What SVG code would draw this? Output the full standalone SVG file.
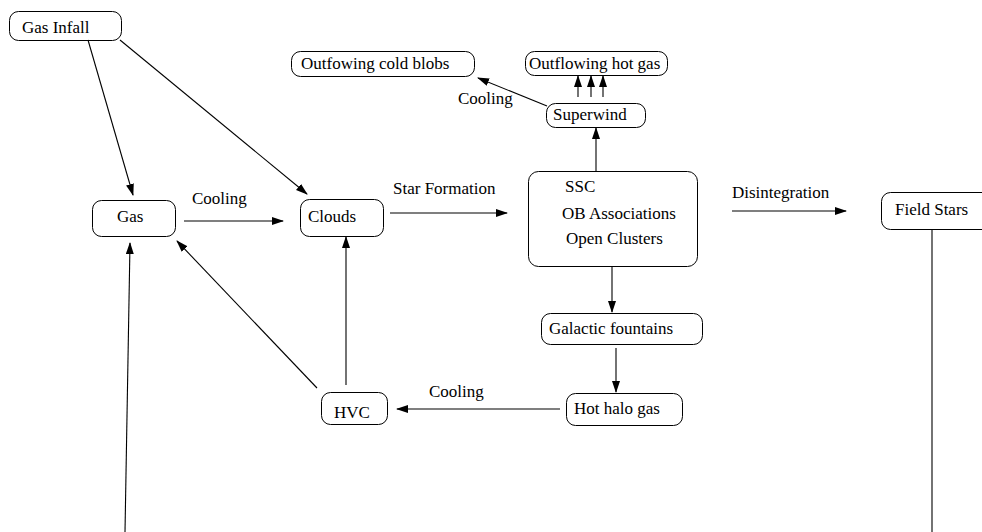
<svg xmlns="http://www.w3.org/2000/svg" width="982" height="532" viewBox="0 0 982 532">
<style>
.box{fill:#fff;stroke:#000;stroke-width:1}
.t{font-family:"Liberation Serif","Times New Roman",serif;font-size:17px;fill:#000}
.c line{stroke:#000;stroke-width:1.1;marker-end:url(#ah)}
.c line.plain{marker-end:none}
</style>
<defs>
<marker id="ah" markerUnits="userSpaceOnUse" markerWidth="12" markerHeight="8" refX="11" refY="4" orient="auto">
<path d="M0,0 L12,4 L0,8 z" fill="#000"/>
</marker>
</defs>
<rect width="982" height="532" fill="#fff"/>
<g id="gas-infall"><rect class="box" x="9.5" y="11.5" width="112" height="29" rx="9"/><text class="t" x="22" y="33">Gas Infall</text></g>
<g id="gas"><rect class="box" x="92.5" y="200.5" width="83" height="36" rx="9"/><text class="t" x="117" y="222">Gas</text></g>
<g id="clouds"><rect class="box" x="300.5" y="199.5" width="83" height="37" rx="9"/><text class="t" x="308" y="222">Clouds</text></g>
<g id="ssc"><rect class="box" x="528.5" y="171.5" width="169" height="95" rx="10"/><text class="t" x="565" y="192">SSC</text><text class="t" x="562" y="219">OB Associations</text><text class="t" x="566" y="244">Open Clusters</text></g>
<g id="superwind"><rect class="box" x="546.5" y="103.5" width="99" height="24" rx="9"/><text class="t" x="553" y="120">Superwind</text></g>
<g id="outflowing-hot-gas"><rect class="box" x="525.5" y="51.5" width="142" height="24" rx="9"/><text class="t" x="529" y="69">Outflowing hot gas</text></g>
<g id="outfowing-cold-blobs"><rect class="box" x="291.5" y="51.5" width="183" height="25" rx="9"/><text class="t" x="301" y="69">Outfowing cold blobs</text></g>
<g id="field-stars"><rect class="box" x="881.5" y="192.5" width="110" height="37" rx="9"/><text class="t" x="895" y="215">Field Stars</text></g>
<g id="galactic-fountains"><rect class="box" x="541.5" y="313.5" width="161" height="31" rx="9"/><text class="t" x="549" y="334">Galactic fountains</text></g>
<g id="hot-halo-gas"><rect class="box" x="566.5" y="393.5" width="116" height="32" rx="9"/><text class="t" x="574" y="414">Hot halo gas</text></g>
<g id="hvc"><rect class="box" x="321.5" y="392.5" width="66" height="32" rx="9"/><text class="t" x="334" y="418">HVC</text></g>
<g id="connectors" class="c">
<line x1="88" y1="40" x2="133" y2="195"/>
<line x1="120" y1="40" x2="307" y2="194"/>
<line x1="184" y1="221" x2="283" y2="221"/>
<line x1="390" y1="213" x2="507" y2="213"/>
<line x1="596" y1="171" x2="596" y2="128"/>
<line x1="578" y1="97" x2="578" y2="76"/>
<line x1="591" y1="97" x2="591" y2="76"/>
<line x1="603" y1="97" x2="603" y2="76"/>
<line x1="547" y1="106" x2="478" y2="78"/>
<line x1="732" y1="211" x2="846" y2="211"/>
<line x1="612" y1="266" x2="612" y2="312"/>
<line x1="616" y1="348" x2="616" y2="392"/>
<line x1="560" y1="409" x2="397" y2="409"/>
<line x1="346" y1="385" x2="346" y2="237"/>
<line x1="317" y1="388" x2="177" y2="241"/>
<line x1="125" y1="532" x2="130" y2="243"/>
<line class="plain" x1="932" y1="229" x2="932" y2="532"/>
</g>
<g id="labels">
<text class="t" x="192" y="204">Cooling</text>
<text class="t" x="393" y="194">Star Formation</text>
<text class="t" x="458" y="104">Cooling</text>
<text class="t" x="732" y="198">Disintegration</text>
<text class="t" x="429" y="397">Cooling</text>
</g>
</svg>
